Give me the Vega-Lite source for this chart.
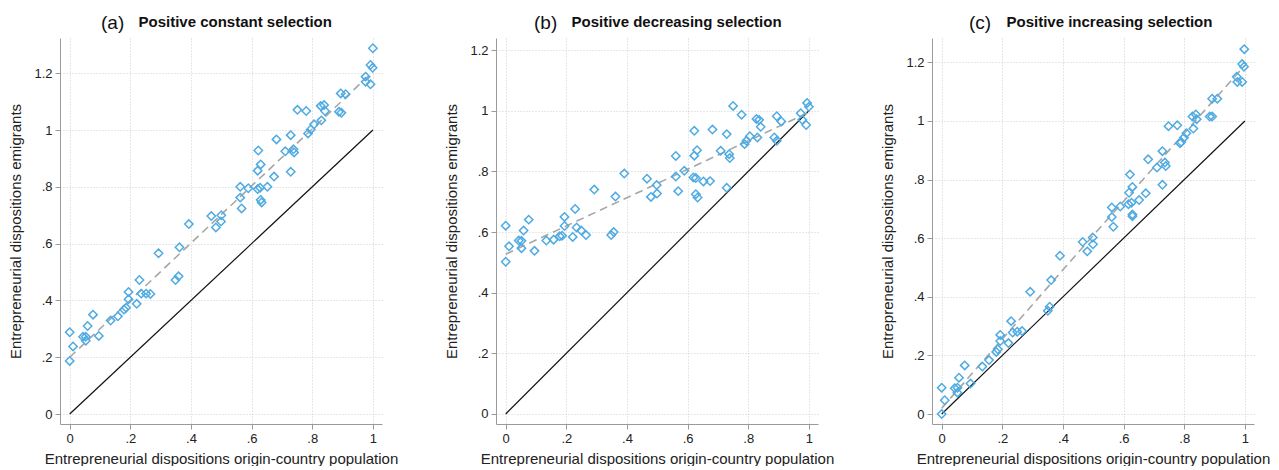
{
  "$schema": "https://vega.github.io/schema/vega-lite/v6.json",
  "background": "white",
  "padding": {"left": 8, "top": 14, "right": 5, "bottom": 0},
  "spacing": 46,
  "datasets": {
    "pts": [
      {"p":"a","x":0,"y":0.288},{"p":"a","x":0,"y":0.187},{"p":"a","x":0.011,"y":0.238},{"p":"a","x":0.044,"y":0.272},{"p":"a","x":0.053,"y":0.272},{"p":"a","x":0.053,"y":0.258},{"p":"a","x":0.059,"y":0.31},{"p":"a","x":0.077,"y":0.35},{"p":"a","x":0.096,"y":0.275},{"p":"a","x":0.135,"y":0.329},{"p":"a","x":0.159,"y":0.344},{"p":"a","x":0.179,"y":0.368},{"p":"a","x":0.186,"y":0.374},{"p":"a","x":0.194,"y":0.404},{"p":"a","x":0.194,"y":0.43},{"p":"a","x":0.221,"y":0.388},{"p":"a","x":0.23,"y":0.472},{"p":"a","x":0.236,"y":0.424},{"p":"a","x":0.252,"y":0.424},{"p":"a","x":0.266,"y":0.423},{"p":"a","x":0.293,"y":0.566},{"p":"a","x":0.349,"y":0.472},{"p":"a","x":0.359,"y":0.485},{"p":"a","x":0.362,"y":0.587},{"p":"a","x":0.393,"y":0.669},{"p":"a","x":0.467,"y":0.697},{"p":"a","x":0.482,"y":0.657},{"p":"a","x":0.499,"y":0.678},{"p":"a","x":0.5,"y":0.7},{"p":"a","x":0.5625,"y":0.762},{"p":"a","x":0.5625,"y":0.8},{"p":"a","x":0.567,"y":0.724},{"p":"a","x":0.589,"y":0.795},{"p":"a","x":0.62,"y":0.792},{"p":"a","x":0.628,"y":0.797},{"p":"a","x":0.63,"y":0.754},{"p":"a","x":0.633,"y":0.745},{"p":"a","x":0.62,"y":0.857},{"p":"a","x":0.63,"y":0.879},{"p":"a","x":0.622,"y":0.928},{"p":"a","x":0.652,"y":0.8},{"p":"a","x":0.674,"y":0.836},{"p":"a","x":0.682,"y":0.967},{"p":"a","x":0.711,"y":0.925},{"p":"a","x":0.729,"y":0.982},{"p":"a","x":0.729,"y":0.853},{"p":"a","x":0.738,"y":0.932},{"p":"a","x":0.74,"y":0.921},{"p":"a","x":0.751,"y":1.071},{"p":"a","x":0.78,"y":1.067},{"p":"a","x":0.786,"y":0.988},{"p":"a","x":0.795,"y":1.002},{"p":"a","x":0.806,"y":1.02},{"p":"a","x":0.83,"y":1.034},{"p":"a","x":0.828,"y":1.085},{"p":"a","x":0.839,"y":1.088},{"p":"a","x":0.842,"y":1.067},{"p":"a","x":0.888,"y":1.064},{"p":"a","x":0.896,"y":1.061},{"p":"a","x":0.894,"y":1.129},{"p":"a","x":0.91,"y":1.126},{"p":"a","x":0.976,"y":1.188},{"p":"a","x":0.976,"y":1.17},{"p":"a","x":0.992,"y":1.161},{"p":"a","x":0.992,"y":1.229},{"p":"a","x":0.999,"y":1.219},{"p":"a","x":1.0,"y":1.288},
      {"p":"b","x":0,"y":0.502},{"p":"b","x":0,"y":0.621},{"p":"b","x":0.011,"y":0.553},{"p":"b","x":0.043,"y":0.572},{"p":"b","x":0.052,"y":0.571},{"p":"b","x":0.052,"y":0.547},{"p":"b","x":0.059,"y":0.605},{"p":"b","x":0.076,"y":0.641},{"p":"b","x":0.095,"y":0.538},{"p":"b","x":0.134,"y":0.572},{"p":"b","x":0.158,"y":0.575},{"p":"b","x":0.178,"y":0.586},{"p":"b","x":0.186,"y":0.588},{"p":"b","x":0.194,"y":0.62},{"p":"b","x":0.194,"y":0.65},{"p":"b","x":0.221,"y":0.584},{"p":"b","x":0.229,"y":0.676},{"p":"b","x":0.234,"y":0.615},{"p":"b","x":0.249,"y":0.605},{"p":"b","x":0.265,"y":0.59},{"p":"b","x":0.292,"y":0.74},{"p":"b","x":0.348,"y":0.59},{"p":"b","x":0.356,"y":0.6},{"p":"b","x":0.362,"y":0.717},{"p":"b","x":0.391,"y":0.793},{"p":"b","x":0.466,"y":0.776},{"p":"b","x":0.479,"y":0.716},{"p":"b","x":0.499,"y":0.727},{"p":"b","x":0.498,"y":0.755},{"p":"b","x":0.561,"y":0.783},{"p":"b","x":0.561,"y":0.851},{"p":"b","x":0.569,"y":0.735},{"p":"b","x":0.589,"y":0.802},{"p":"b","x":0.619,"y":0.78},{"p":"b","x":0.627,"y":0.778},{"p":"b","x":0.627,"y":0.725},{"p":"b","x":0.633,"y":0.714},{"p":"b","x":0.622,"y":0.852},{"p":"b","x":0.631,"y":0.87},{"p":"b","x":0.622,"y":0.934},{"p":"b","x":0.652,"y":0.767},{"p":"b","x":0.674,"y":0.768},{"p":"b","x":0.682,"y":0.938},{"p":"b","x":0.709,"y":0.868},{"p":"b","x":0.729,"y":0.923},{"p":"b","x":0.729,"y":0.746},{"p":"b","x":0.737,"y":0.857},{"p":"b","x":0.739,"y":0.844},{"p":"b","x":0.75,"y":1.016},{"p":"b","x":0.778,"y":0.987},{"p":"b","x":0.788,"y":0.89},{"p":"b","x":0.794,"y":0.901},{"p":"b","x":0.805,"y":0.916},{"p":"b","x":0.827,"y":0.973},{"p":"b","x":0.836,"y":0.97},{"p":"b","x":0.841,"y":0.947},{"p":"b","x":0.83,"y":0.912},{"p":"b","x":0.886,"y":0.912},{"p":"b","x":0.894,"y":0.901},{"p":"b","x":0.894,"y":0.982},{"p":"b","x":0.909,"y":0.965},{"p":"b","x":0.973,"y":0.992},{"p":"b","x":0.978,"y":0.97},{"p":"b","x":0.991,"y":0.953},{"p":"b","x":0.994,"y":1.026},{"p":"b","x":1.0,"y":1.013},
      {"p":"c","x":0,"y":0},{"p":"c","x":0,"y":0.09},{"p":"c","x":0.01,"y":0.047},{"p":"c","x":0.043,"y":0.088},{"p":"c","x":0.052,"y":0.09},{"p":"c","x":0.052,"y":0.073},{"p":"c","x":0.057,"y":0.124},{"p":"c","x":0.076,"y":0.166},{"p":"c","x":0.095,"y":0.104},{"p":"c","x":0.134,"y":0.162},{"p":"c","x":0.156,"y":0.184},{"p":"c","x":0.18,"y":0.212},{"p":"c","x":0.185,"y":0.221},{"p":"c","x":0.193,"y":0.249},{"p":"c","x":0.193,"y":0.27},{"p":"c","x":0.22,"y":0.242},{"p":"c","x":0.229,"y":0.317},{"p":"c","x":0.234,"y":0.278},{"p":"c","x":0.249,"y":0.281},{"p":"c","x":0.265,"y":0.283},{"p":"c","x":0.292,"y":0.417},{"p":"c","x":0.35,"y":0.352},{"p":"c","x":0.356,"y":0.366},{"p":"c","x":0.361,"y":0.457},{"p":"c","x":0.39,"y":0.54},{"p":"c","x":0.465,"y":0.587},{"p":"c","x":0.48,"y":0.555},{"p":"c","x":0.499,"y":0.579},{"p":"c","x":0.498,"y":0.602},{"p":"c","x":0.566,"y":0.639},{"p":"c","x":0.561,"y":0.672},{"p":"c","x":0.561,"y":0.705},{"p":"c","x":0.589,"y":0.708},{"p":"c","x":0.616,"y":0.716},{"p":"c","x":0.626,"y":0.721},{"p":"c","x":0.629,"y":0.681},{"p":"c","x":0.629,"y":0.675},{"p":"c","x":0.618,"y":0.755},{"p":"c","x":0.629,"y":0.775},{"p":"c","x":0.621,"y":0.817},{"p":"c","x":0.651,"y":0.73},{"p":"c","x":0.673,"y":0.753},{"p":"c","x":0.681,"y":0.869},{"p":"c","x":0.71,"y":0.841},{"p":"c","x":0.728,"y":0.897},{"p":"c","x":0.728,"y":0.782},{"p":"c","x":0.736,"y":0.858},{"p":"c","x":0.739,"y":0.846},{"p":"c","x":0.748,"y":0.982},{"p":"c","x":0.777,"y":0.985},{"p":"c","x":0.786,"y":0.924},{"p":"c","x":0.79,"y":0.928},{"p":"c","x":0.799,"y":0.943},{"p":"c","x":0.807,"y":0.958},{"p":"c","x":0.83,"y":0.974},{"p":"c","x":0.827,"y":1.015},{"p":"c","x":0.838,"y":1.022},{"p":"c","x":0.841,"y":1.006},{"p":"c","x":0.884,"y":1.015},{"p":"c","x":0.892,"y":1.015},{"p":"c","x":0.892,"y":1.076},{"p":"c","x":0.909,"y":1.076},{"p":"c","x":0.973,"y":1.151},{"p":"c","x":0.975,"y":1.133},{"p":"c","x":0.991,"y":1.133},{"p":"c","x":0.991,"y":1.194},{"p":"c","x":0.997,"y":1.185},{"p":"c","x":0.998,"y":1.245}
    ],
    "fit": [
      {"p":"a","x":0,"y":0.2},{"p":"a","x":1,"y":1.205},
      {"p":"b","x":0,"y":0.527},{"p":"b","x":0.5,"y":0.76},{"p":"b","x":1,"y":0.995},
      {"p":"c","x":0,"y":0.02},{"p":"c","x":0.5,"y":0.61},{"p":"c","x":1,"y":1.19}
    ],
    "diag": [{"x":0,"y":0},{"x":1,"y":1}]
  },
  "config": {
    "font": "Liberation Sans",
    "view": {"stroke": null},
    "axis": {
      "labelFont": "Liberation Sans", "titleFont": "Liberation Sans",
      "labelFontSize": 13, "titleFontSize": 15, "titleFontWeight": "normal",
      "labelColor": "#222", "titleColor": "#222",
      "domainColor": "#9a9a9a", "tickColor": "#9a9a9a", "tickSize": 5,
      "grid": true, "gridColor": "#cfcfcf", "gridDash": [1, 2],
      "labelPadding": 3, "labelFlush": false
    },
    "axisX": {"titlePadding": 6},
    "axisY": {"titlePadding": 10},
    "title": {
      "anchor": "start", "align": "left", "frame": "group", "font": "Liberation Sans", "fontSize": 19, "fontWeight": "normal", "color": "#111",
      "subtitleFont": "Liberation Sans", "subtitleFontSize": 15, "subtitleFontWeight": "bold", "subtitleColor": "#111",
      "subtitlePadding": -18, "offset": 5
    }
  },
  "hconcat": [
    {
      "width": 322, "height": 386,
      "title": {"text": "(a)", "subtitle": "\u200b\u00a0\u00a0\u00a0\u00a0\u00a0\u00a0\u00a0\u00a0\u00a0Positive constant selection", "dx": 41},
      "encoding": {
        "x": {"field": "x", "type": "quantitative", "scale": {"domain": [-0.032, 1.03], "nice": false, "zero": false},
              "axis": {"values": [0, 0.2, 0.4, 0.6, 0.8, 1], "title": "Entrepreneurial dispositions origin-country population",
                       "labelExpr": "datum.value == 0 ? '0' : datum.value == 1 ? '1' : '.' + format(datum.value*10, '.0f')"}},
        "y": {"field": "y", "type": "quantitative", "scale": {"domain": [-0.035, 1.324], "nice": false, "zero": false},
              "axis": {"values": [0, 0.2, 0.4, 0.6, 0.8, 1, 1.2], "title": "Entrepreneurial dispositions emigrants",
                       "labelExpr": "datum.value == 0 ? '0' : datum.value == 1 ? '1' : datum.value > 1 ? format(datum.value, '.1f') : '.' + format(datum.value*10, '.0f')"}}
      },
      "layer": [
        {"data": {"name": "diag"}, "mark": {"type": "line", "color": "#111", "strokeWidth": 1.2}},
        {"data": {"name": "fit"}, "transform": [{"filter": "datum.p == 'a'"}], "mark": {"type": "line", "color": "#a6a6a6", "strokeWidth": 1.6, "strokeDash": [8, 5]}},
        {"data": {"name": "pts"}, "transform": [{"filter": "datum.p == 'a'"}], "mark": {"type": "point", "shape": "diamond", "filled": false, "color": "#4fabe2", "size": 70, "strokeWidth": 1.5, "opacity": 1}}
      ]
    },
    {
      "width": 322, "height": 386,
      "title": {"text": "(b)", "subtitle": "\u200b\u00a0\u00a0\u00a0\u00a0\u00a0\u00a0\u00a0\u00a0\u00a0Positive decreasing selection", "dx": 38},
      "encoding": {
        "x": {"field": "x", "type": "quantitative", "scale": {"domain": [-0.032, 1.03], "nice": false, "zero": false},
              "axis": {"values": [0, 0.2, 0.4, 0.6, 0.8, 1], "title": "Entrepreneurial dispositions origin-country population",
                       "labelExpr": "datum.value == 0 ? '0' : datum.value == 1 ? '1' : '.' + format(datum.value*10, '.0f')"}},
        "y": {"field": "y", "type": "quantitative", "scale": {"domain": [-0.033, 1.24], "nice": false, "zero": false},
              "axis": {"values": [0, 0.2, 0.4, 0.6, 0.8, 1, 1.2], "title": "Entrepreneurial dispositions emigrants",
                       "labelExpr": "datum.value == 0 ? '0' : datum.value == 1 ? '1' : datum.value > 1 ? format(datum.value, '.1f') : '.' + format(datum.value*10, '.0f')"}}
      },
      "layer": [
        {"data": {"name": "diag"}, "mark": {"type": "line", "color": "#111", "strokeWidth": 1.2}},
        {"data": {"name": "fit"}, "transform": [{"filter": "datum.p == 'b'"}], "mark": {"type": "line", "color": "#a6a6a6", "strokeWidth": 1.6, "strokeDash": [8, 5]}},
        {"data": {"name": "pts"}, "transform": [{"filter": "datum.p == 'b'"}], "mark": {"type": "point", "shape": "diamond", "filled": false, "color": "#4fabe2", "size": 70, "strokeWidth": 1.5, "opacity": 1}}
      ]
    },
    {
      "width": 322, "height": 386,
      "title": {"text": "(c)", "subtitle": "\u200b\u00a0\u00a0\u00a0\u00a0\u00a0\u00a0\u00a0\u00a0\u00a0Positive increasing selection", "dx": 37},
      "encoding": {
        "x": {"field": "x", "type": "quantitative", "scale": {"domain": [-0.032, 1.03], "nice": false, "zero": false},
              "axis": {"values": [0, 0.2, 0.4, 0.6, 0.8, 1], "title": "Entrepreneurial dispositions origin-country population",
                       "labelExpr": "datum.value == 0 ? '0' : datum.value == 1 ? '1' : '.' + format(datum.value*10, '.0f')"}},
        "y": {"field": "y", "type": "quantitative", "scale": {"domain": [-0.034, 1.283], "nice": false, "zero": false},
              "axis": {"values": [0, 0.2, 0.4, 0.6, 0.8, 1, 1.2], "title": "Entrepreneurial dispositions emigrants",
                       "labelExpr": "datum.value == 0 ? '0' : datum.value == 1 ? '1' : datum.value > 1 ? format(datum.value, '.1f') : '.' + format(datum.value*10, '.0f')"}}
      },
      "layer": [
        {"data": {"name": "diag"}, "mark": {"type": "line", "color": "#111", "strokeWidth": 1.2}},
        {"data": {"name": "fit"}, "transform": [{"filter": "datum.p == 'c'"}], "mark": {"type": "line", "color": "#a6a6a6", "strokeWidth": 1.6, "strokeDash": [8, 5]}},
        {"data": {"name": "pts"}, "transform": [{"filter": "datum.p == 'c'"}], "mark": {"type": "point", "shape": "diamond", "filled": false, "color": "#4fabe2", "size": 70, "strokeWidth": 1.5, "opacity": 1}}
      ]
    }
  ]
}
